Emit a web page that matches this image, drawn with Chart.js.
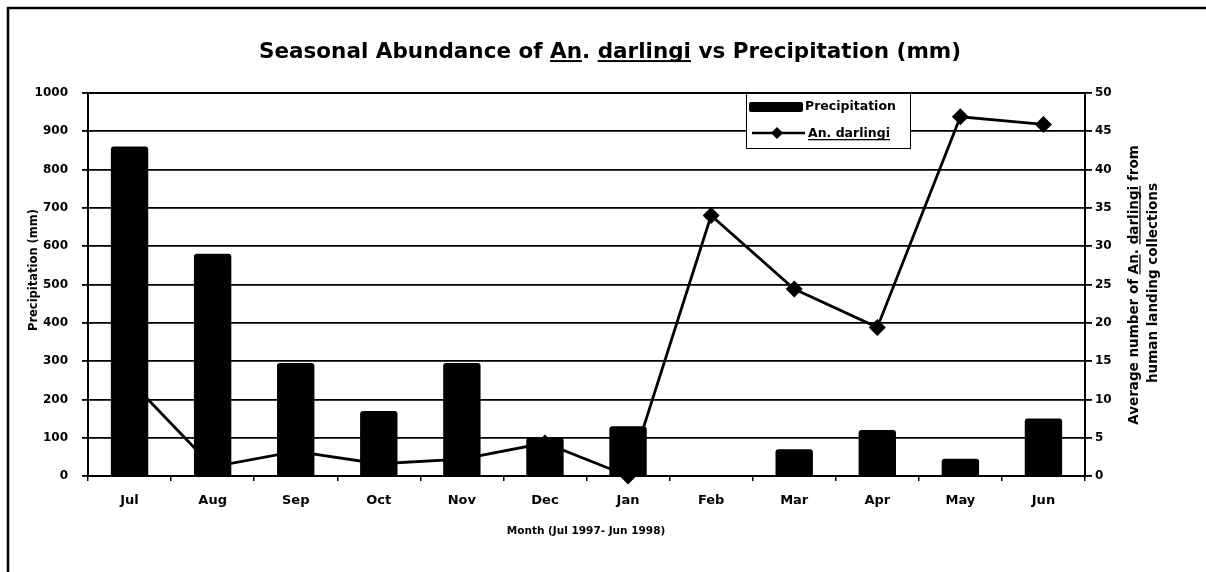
<!DOCTYPE html>
<html>
<head>
<meta charset="utf-8">
<script src="https://cdn.jsdelivr.net/npm/chart.js@4.4.1/dist/chart.umd.min.js"></script>
<style>
  html, body { margin: 0; padding: 0; background: #fff; }
  canvas { display: block; }
</style>
</head>
<body>
<canvas id="chart" width="1206" height="572"></canvas>
<script>
const months = ['Jul', 'Aug', 'Sep', 'Oct', 'Nov', 'Dec', 'Jan', 'Feb', 'Mar', 'Apr', 'May', 'Jun'];
const precipitation = [860, 580, 295, 170, 295, 100, 130, 2, 70, 120, 45, 150];
const darlingi = [12.5, 1.2, 3.2, 1.6, 2.2, 4.3, 0, 34, 24.4, 19.4, 46.9, 45.9];

const FONT = '"DejaVu Sans", Arial, sans-serif';

// draws text made of pieces, some underlined, centred on (x, y)
function drawPieces(ctx, pieces, x, y, size) {
  ctx.font = 'bold ' + size + 'px ' + FONT;
  ctx.textBaseline = 'alphabetic';
  ctx.textAlign = 'left';
  const total = pieces.reduce((w, p) => w + ctx.measureText(p.t).width, 0);
  let cx = x - total / 2;
  const base = y + size * 0.35;
  pieces.forEach((p) => {
    const w = ctx.measureText(p.t).width;
    ctx.fillText(p.t, cx, base);
    if (p.u) {
      ctx.fillRect(cx, base + size * 0.12, w, Math.max(1.2, size * 0.09));
    }
    cx += w;
  });
}

const decor = {
  id: 'decor',
  beforeDraw(chart) {
    const ctx = chart.ctx;
    ctx.save();
    ctx.fillStyle = '#fff';
    ctx.fillRect(0, 0, chart.width, chart.height);
    ctx.restore();
  },
  afterDraw(chart) {
    const ctx = chart.ctx;
    const a = chart.chartArea;
    ctx.save();
    ctx.fillStyle = '#000';
    ctx.strokeStyle = '#000';

    // outer frame
    ctx.lineWidth = 2.5;
    ctx.strokeRect(8, 8, 1400, 800);

    // plot frame
    ctx.lineWidth = 2;
    ctx.strokeRect(a.left, a.top, a.right - a.left, a.bottom - a.top);

    // title
    drawPieces(ctx, [
      { t: 'Seasonal Abundance of ' },
      { t: 'An', u: true },
      { t: '. ' },
      { t: 'darlingi', u: true },
      { t: ' vs Precipitation (mm)' }
    ], 610, 50, 21.5);

    // x axis title
    drawPieces(ctx, [{ t: 'Month (Jul 1997- Jun 1998)' }], 586, 530, 10.5);

    // left axis title
    ctx.save();
    ctx.translate(33, 270);
    ctx.rotate(-Math.PI / 2);
    drawPieces(ctx, [{ t: 'Precipitation (mm)' }], 0, 0, 11.5);
    ctx.restore();

    // right axis title
    ctx.save();
    ctx.translate(1133, 285);
    ctx.rotate(-Math.PI / 2);
    drawPieces(ctx, [
      { t: 'Average number of ' },
      { t: 'An', u: true },
      { t: '. ' },
      { t: 'darlingi', u: true },
      { t: ' from' }
    ], 0, 0, 13.5);
    ctx.restore();
    ctx.save();
    ctx.translate(1152, 283);
    ctx.rotate(-Math.PI / 2);
    drawPieces(ctx, [{ t: 'human landing collections' }], 0, 0, 13.5);
    ctx.restore();

    // legend
    const lx = 746, ly = 93, lw = 164, lh = 55;
    ctx.fillStyle = '#fff';
    ctx.fillRect(lx, ly, lw, lh);
    ctx.lineWidth = 1;
    ctx.strokeRect(lx + 0.5, ly + 0.5, lw, lh);
    ctx.fillStyle = '#000';
    ctx.beginPath();
    ctx.roundRect(749, 102, 54, 10, 2);
    ctx.fill();
    ctx.font = 'bold 12.5px ' + FONT;
    ctx.textBaseline = 'middle';
    ctx.fillText('Precipitation', 805, 107);
    ctx.lineWidth = 2.5;
    ctx.beginPath();
    ctx.moveTo(752, 133);
    ctx.lineTo(805, 133);
    ctx.stroke();
    ctx.beginPath();
    ctx.moveTo(777, 127);
    ctx.lineTo(783, 133);
    ctx.lineTo(777, 139);
    ctx.lineTo(771, 133);
    ctx.closePath();
    ctx.fill();
    ctx.textBaseline = 'alphabetic';
    const lt = 'An. darlingi';
    ctx.fillText(lt, 808, 137);
    ctx.fillRect(808, 139, ctx.measureText(lt).width, 1.3);

    ctx.restore();
  }
};

new Chart(document.getElementById('chart'), {
  data: {
    labels: months,
    datasets: [
      {
        type: 'bar',
        label: 'Precipitation',
        data: precipitation,
        backgroundColor: '#000',
        borderRadius: 3,
        borderSkipped: 'bottom',
        barPercentage: 0.45,
        categoryPercentage: 1,
        yAxisID: 'y',
        order: 1
      },
      {
        type: 'line',
        label: 'An. darlingi',
        data: darlingi,
        borderColor: '#000',
        borderWidth: 2.8,
        tension: 0,
        pointStyle: 'rectRot',
        pointRadius: 6.5,
        pointBackgroundColor: '#000',
        pointBorderColor: '#000',
        clip: false,
        yAxisID: 'y1',
        order: 2
      }
    ]
  },
  options: {
    responsive: false,
    animation: false,
    devicePixelRatio: 1,
    layout: { padding: { left: 8, right: 8, top: 93, bottom: 36 } },
    plugins: {
      legend: { display: false },
      title: { display: false },
      tooltip: { enabled: false }
    },
    scales: {
      x: {
        offset: true,
        grid: { display: true, drawOnChartArea: false, offset: true, tickLength: 5, color: '#000', lineWidth: 1.5 },
        border: { color: '#000', width: 2 },
        ticks: { color: '#000', font: { family: FONT, size: 13, weight: 'bold' }, padding: 12 },
        afterFit: (s) => { s.height = 60; }
      },
      y: {
        position: 'left',
        min: 0,
        max: 1000,
        ticks: {
          stepSize: 100,
          color: '#000',
          font: { family: FONT, size: 12, weight: 'bold' },
          padding: 14,
          callback: (v) => String(v)
        },
        grid: { color: '#000', lineWidth: 1.8, tickLength: 6 },
        border: { color: '#000', width: 2 },
        afterFit: (s) => { s.width = 80; }
      },
      y1: {
        position: 'right',
        min: 0,
        max: 50,
        ticks: { stepSize: 5, color: '#000', font: { family: FONT, size: 12, weight: 'bold' }, padding: 3 },
        grid: { drawOnChartArea: false, color: '#000', lineWidth: 1.8, tickLength: 7 },
        border: { color: '#000', width: 2 },
        afterFit: (s) => { s.width = 113; }
      }
    }
  },
  plugins: [decor]
});
</script>
</body>
</html>
